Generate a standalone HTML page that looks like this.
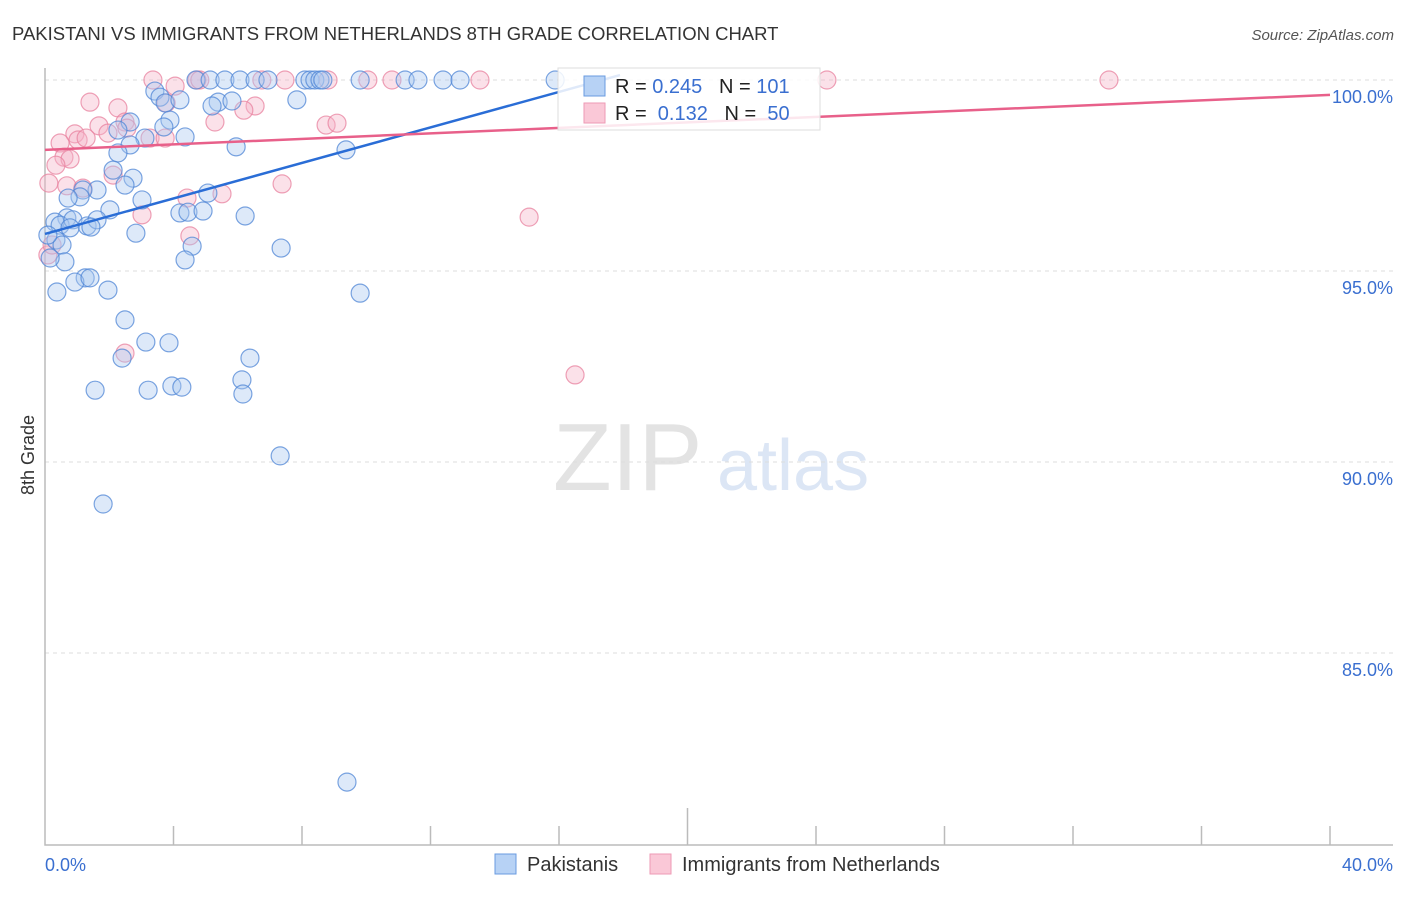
<!DOCTYPE html>
<html><head><meta charset="utf-8"><style>
body{margin:0;background:#fff;font-family:"Liberation Sans",sans-serif;}
svg text{font-family:"Liberation Sans",sans-serif;white-space:pre;}
</style></head><body>
<svg id="chart" width="1406" height="892" xmlns="http://www.w3.org/2000/svg">
<text x="12" y="40" font-size="18.5" fill="#333">PAKISTANI VS IMMIGRANTS FROM NETHERLANDS 8TH GRADE CORRELATION CHART</text>
<text x="1394" y="40" font-size="15" fill="#555" text-anchor="end" font-style="italic">Source: ZipAtlas.com</text>
<text x="34" y="455" font-size="18" fill="#333" text-anchor="middle" transform="rotate(-90 34 455)">8th Grade</text>
<g><text x="553" y="490" font-size="96" fill="#e3e3e3" font-family="Liberation Serif, serif">ZIP</text><text x="717" y="490" font-size="72" fill="#dce6f5">atlas</text></g>
<g id="grid"></g><g id="axes"></g><g id="pts"></g><g id="lines"></g>
<g>
<rect x="558" y="68" width="262" height="62" fill="#fff" fill-opacity="0.85" stroke="#ddd"/>
<rect x="584" y="76" width="21" height="20" fill="#b7d2f5" stroke="#6a9be0"/>
<rect x="584" y="103" width="21" height="20" fill="#fac8d7" stroke="#ee9ab4"/>
<text x="615" y="93" font-size="20" fill="#222">R = <tspan fill="#3a6fd0">0.245</tspan>   N = <tspan fill="#3a6fd0">101</tspan></text>
<text x="615" y="120" font-size="20" fill="#222">R =  <tspan fill="#3a6fd0">0.132</tspan>   N =  <tspan fill="#3a6fd0">50</tspan></text>
</g>
<g>
<rect x="495" y="854" width="21" height="20" fill="#b7d2f5" stroke="#6a9be0"/>
<text x="527" y="871" font-size="20" fill="#333">Pakistanis</text>
<rect x="650" y="854" width="21" height="20" fill="#fac8d7" stroke="#ee9ab4"/>
<text x="682" y="871" font-size="20" fill="#333">Immigrants from Netherlands</text>
</g>
</svg>
<script>
const yTicks=[100,95,90,85];
const yTickLabels=["100.0%","95.0%","90.0%","85.0%"];
const xTickLabels=["0.0%","40.0%"];
const blueX=[4.70,5.14,5.60,6.07,6.54,6.94,8.09,8.25,8.40,8.56,8.65,9.81,11.21,11.61,12.39,12.92,15.88,3.42,3.58,3.74,5.39,5.82,7.84,5.20,3.89,3.70,2.65,2.27,3.11,4.36,5.95,9.37,2.65,2.27,2.12,2.74,2.49,1.62,1.18,1.09,0.72,3.02,2.02,0.68,0.31,0.47,0.87,1.31,1.62,1.43,0.78,4.20,4.45,4.92,6.23,2.83,5.07,4.58,0.34,0.53,0.09,0.62,4.36,7.35,1.25,0.93,1.40,0.37,1.96,9.81,2.49,3.14,3.86,6.38,2.40,1.56,3.21,3.95,4.26,6.13,6.16,7.32,1.81,9.40,0.16,4.20];
const blueY=[100,100,100,100,100,100,100,100,100,100,100,100,100,100,100,100,100,99.71,99.55,99.40,99.42,99.45,99.48,99.32,98.95,98.77,98.90,98.69,98.48,98.51,98.25,98.17,98.30,98.09,97.64,97.43,97.25,97.12,97.12,96.94,96.91,96.86,96.60,96.39,96.28,96.20,96.34,96.18,96.34,96.15,96.13,96.52,96.54,96.57,96.44,95.99,97.04,95.65,95.81,95.68,95.94,95.24,95.29,95.60,94.82,94.71,94.82,94.45,94.50,94.42,93.72,93.14,93.12,92.72,92.72,91.88,91.88,91.99,91.96,92.15,91.78,90.16,88.90,81.62,95.34,99.48];
const pinkX=[3.36,4.05,4.73,4.82,6.75,7.47,8.81,10.05,10.80,13.54,24.34,33.12,1.40,2.27,3.77,6.54,5.29,6.19,1.68,2.49,0.93,0.47,1.03,3.27,3.74,2.55,1.96,1.28,0.59,0.78,0.34,0.12,0.68,1.18,2.12,4.42,5.51,7.38,8.75,9.09,3.02,4.51,15.07,2.49,16.50,0.09,0.22];
const pinkY=[100,99.84,100,100,100,100,100,100,100,100,100,100,99.42,99.27,99.40,99.32,98.90,99.21,98.80,98.90,98.59,98.35,98.43,98.48,98.48,98.74,98.61,98.48,97.98,97.93,97.77,97.30,97.23,97.17,97.51,96.91,97.02,97.28,98.82,98.87,96.47,95.92,96.41,92.85,92.28,95.42,95.68];
const blueLineX=[0,17.9], blueLineY=[95.97,100.13];
const pinkLineX=[0,40], pinkLineY=[98.17,99.61];
const NS="http://www.w3.org/2000/svg";
const xs=v=>45+v*32.125, ys=v=>80+(100-v)*38.2;
function mk(tag,attrs,parent){const e=document.createElementNS(NS,tag);for(const k in attrs)e.setAttribute(k,attrs[k]);document.getElementById(parent).appendChild(e);return e;}
yTicks.forEach((t,i)=>{
 const g=mk('line',{x1:45,x2:1393,y1:ys(t),y2:ys(t),stroke:'#ddd','stroke-dasharray':'4,4'},'grid');
 
 
 const l=mk('text',{x:1393,y:ys(t)+23,'font-size':18,fill:'#3a6fd0','text-anchor':'end'},'grid');
 l.textContent=yTickLabels[i];
 
 
});
const ax=mk('path',{d:'M45,68 V845 H1393',stroke:'#bbb',fill:'none','stroke-width':1.5},'axes');


for(let i=1;i<=10;i++){
 const t=mk('line',{x1:xs(i*4),x2:xs(i*4),y1:i==5?808:826,y2:845,stroke:'#bbb','stroke-width':1.5},'axes');
 
 
}
[[0,'start',45],[40,'end',1393]].forEach((d,i)=>{
 const l=mk('text',{x:d[2],y:871,'font-size':18,fill:'#3a6fd0','text-anchor':d[1]},'axes');
 l.textContent=xTickLabels[i];
 
 
});
function pts(X,Y,fill,stroke,name){
 X.forEach((x,i)=>{
  const c=mk('circle',{cx:xs(x),cy:ys(Y[i]),r:9,fill:fill,'fill-opacity':0.4,stroke:stroke,'stroke-opacity':0.75,'stroke-width':1.2},'pts');
  
  
 });
}
pts(pinkX,pinkY,'#f5b3c8','#e8819f','pink-point');
pts(blueX,blueY,'#a9c8f0','#4f86d6','blue-point');
const bl=mk('line',{x1:xs(blueLineX[0]),y1:ys(blueLineY[0]),x2:xs(blueLineX[1]),y2:ys(blueLineY[1]),stroke:'#2a6dd6','stroke-width':2.5},'lines');


const pl=mk('line',{x1:xs(pinkLineX[0]),y1:ys(pinkLineY[0]),x2:xs(pinkLineX[1]),y2:ys(pinkLineY[1]),stroke:'#e8608a','stroke-width':2.5},'lines');


</script>
</body></html>
